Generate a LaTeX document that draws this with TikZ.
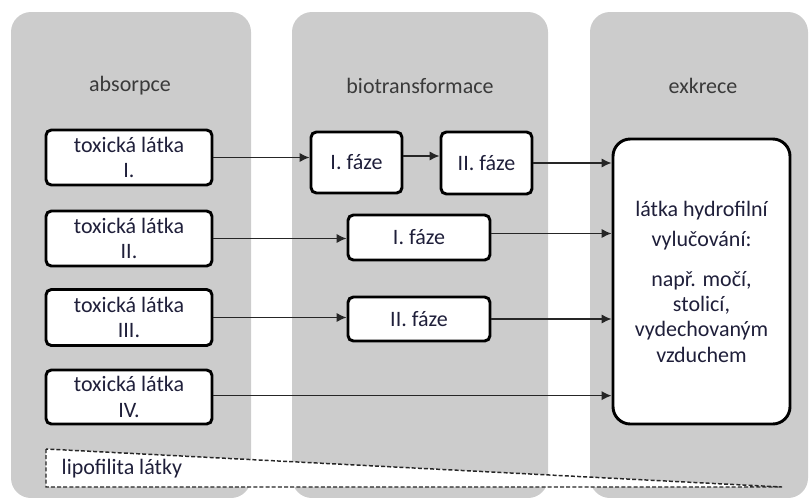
\documentclass[tikz,border=0pt]{standalone}
\usepackage{fontspec}
\setmainfont{Carlito}
\usetikzlibrary{arrows.meta}
\definecolor{panel}{HTML}{CCCCCC}
\definecolor{txt}{HTML}{1F1F3A}
\definecolor{ttlc}{HTML}{3A3A3A}
\begin{document}
\begin{tikzpicture}[x=0.75pt,y=-0.75pt,
  panelbox/.style={fill=panel, rounded corners=15pt, draw=none},
  ttl/.style={text=ttlc, font=\fontsize{16.5}{19}\selectfont},
  box/.style={draw=black, line width=2.2pt, fill=white, rounded corners=4pt, text=txt,
    font=\fontsize{16.5}{19}\selectfont, align=center, inner sep=0pt},
  arr/.style={-{Latex[length=7.5pt,width=7pt]}, line width=1.1pt, draw=black!85},
  wedge/.style={draw=black!85, dashed, dash pattern=on 3pt off 1.6pt, line width=1.1pt, fill=white}]
\useasboundingbox (0,0) rectangle (809,497);
% panels
\fill[panelbox] (11,12) rectangle (251,498);
\fill[panelbox] (292,12) rectangle (548,498);
\fill[panelbox] (590,12) rectangle (808,498);
% titles
\node[ttl] (h1) at (130,86) {absorpce};
\node[ttl] (h2) at (420,86) {biotransformace};
\node[ttl] (h3) at (703,86) {exkrece};
% left boxes
\node[box, minimum width=124.5pt, minimum height=41.25pt] (t1) at (129,157.5) {toxická látka\\I.};
\node[box, minimum width=124.5pt, minimum height=41.25pt] (t2) at (129,238.5) {toxická látka\\II.};
\node[box, minimum width=124.5pt, minimum height=42pt] (t3) at (129,317.5) {toxická látka\\III.};
\node[box, minimum width=124.5pt, minimum height=40.5pt] (t4) at (129,397) {toxická látka\\IV.};
% phase boxes
\node[box, minimum width=68.25pt, minimum height=45.75pt] (f1) at (356.5,162.5) {I. fáze};
\node[box, minimum width=68.25pt, minimum height=46.5pt] (f2) at (486.5,163) {II. fáze};
\node[box, minimum width=106.5pt, minimum height=33.75pt] (f3) at (419,237.5) {I. fáze};
\node[box, minimum width=106.5pt, minimum height=33pt] (f4) at (419,319) {II. fáze};
% excretion box
\node[box, rounded corners=13pt, minimum width=132.75pt, minimum height=213.75pt] (big) at (701.5,281.5)
  {látka hydrofilní\\[3.5pt]vylučování:\\[11pt]např. močí,\\stolicí,\\vydechovaným\\vzduchem};
% arrows
\draw[arr] (t1.east) -- (t1.east -| f1.west);
\draw[arr] (f1.east |- t1.east) ++(0,-1.5) coordinate (c1) -- (c1 -| f2.west);
\draw[arr] (f2.east) -- (f2.east -| big.west);
\draw[arr] (t2.east) -- (t2.east -| f3.west);
\draw[arr] ([yshift=3pt]f3.east) -- ([yshift=3pt]f3.east -| big.west);
\draw[arr] (t3.east) -- (t3.east -| f4.west);
\draw[arr] (f4.east) -- (f4.east -| big.west);
\draw[arr] ([yshift=1pt]t4.east) -- ([yshift=1pt]t4.east -| big.west);
% lipophilicity wedge
\coordinate (w1) at (46,449);
\coordinate (w2) at (46,487);
\coordinate (w3) at (782,487);
\draw[wedge] (w1) -- (w2) -- (w3) -- cycle;
\node[anchor=west, text=txt, font=\fontsize{16.5}{19}\selectfont] (lip) at (57,469) {lipofilita látky};
\end{tikzpicture}
\end{document}
